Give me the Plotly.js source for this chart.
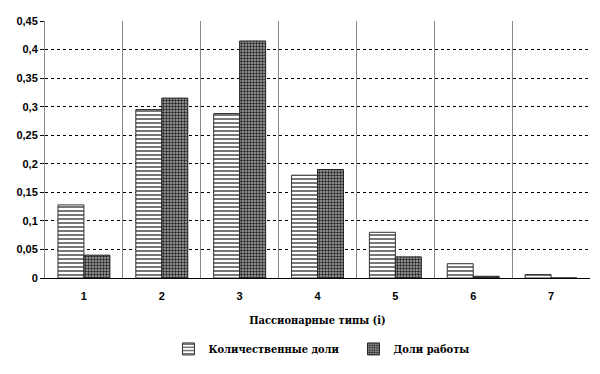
<!DOCTYPE html>
<html><head><meta charset="utf-8">
<script src="https://cdn.plot.ly/plotly-3.0.1.min.js"></script>
<style>body{margin:0}#c{width:600px;height:374px}</style>
</head><body><div id="c"></div>
<script>
const categories = [1, 2, 3, 4, 5, 6, 7];
const quantityShares = [0.128, 0.295, 0.288, 0.180, 0.080, 0.025, 0.006];
const workShares = [0.040, 0.315, 0.415, 0.190, 0.037, 0.003, 0.0];
const seriesNames = ['Количественные доли', 'Доли работы'];
const yTicks = [0, 0.05, 0.1, 0.15, 0.2, 0.25, 0.3, 0.35, 0.4, 0.45];

const sans = "Liberation Sans";
const serif = "DejaVu Serif Condensed, DejaVu Serif";
const traces = [
  {type:'bar', x:categories, y:quantityShares, name:seriesNames[0],
   marker:{color:'#ffffff', line:{color:'#333', width:1},
     pattern:{shape:'-', fgcolor:'#555', bgcolor:'#ffffff', size:4, solidity:0.4}}},
  {type:'bar', x:categories, y:workShares, name:seriesNames[1],
   marker:{color:'#999', line:{color:'#222', width:1},
     pattern:{shape:'.', fgcolor:'#222', bgcolor:'#aaa', size:3, solidity:0.5}}}
];
const layout = {
  width:600, height:374, separators:',.',
  margin:{l:45, r:10, t:21, b:92},
  paper_bgcolor:'#fff', plot_bgcolor:'#fff',
  barmode:'group', bargap:0.333, bargroupgap:0,
  font:{family:sans, color:'#000'},
  xaxis:{type:'linear', range:[0.5,7.5], tickvals:categories, showgrid:false,
    ticks:'', ticklabelstandoff:8, tickfont:{size:11, family:sans, weight:'bold'},
    showline:true, linecolor:'#000', linewidth:1, zeroline:false,
    minor:{tick0:0.5, dtick:1, showgrid:true, gridcolor:'#888', gridwidth:1, ticks:''},
    title:{text:'Пассионарные типы (i)', standoff:15,
      font:{family:serif, size:11, weight:'bold'}}},
  yaxis:{range:[0,0.45], tickvals:yTicks, showgrid:true, gridcolor:'#000', griddash:'dot',
    gridwidth:1, zeroline:false, showline:true, linecolor:'#888', ticks:'outside', ticklen:4,
    tickcolor:'#000', tickfont:{size:11, family:sans, weight:'bold'}},
  legend:{orientation:'h', x:0.566, xanchor:'center', y:-0.276, yanchor:'middle',
    font:{family:serif, size:11, weight:'bold'},
    itemwidth:30, entrywidth:140},
  showlegend:true
};
Plotly.newPlot('c', traces, layout, {displayModeBar:false});
</script></body></html>
